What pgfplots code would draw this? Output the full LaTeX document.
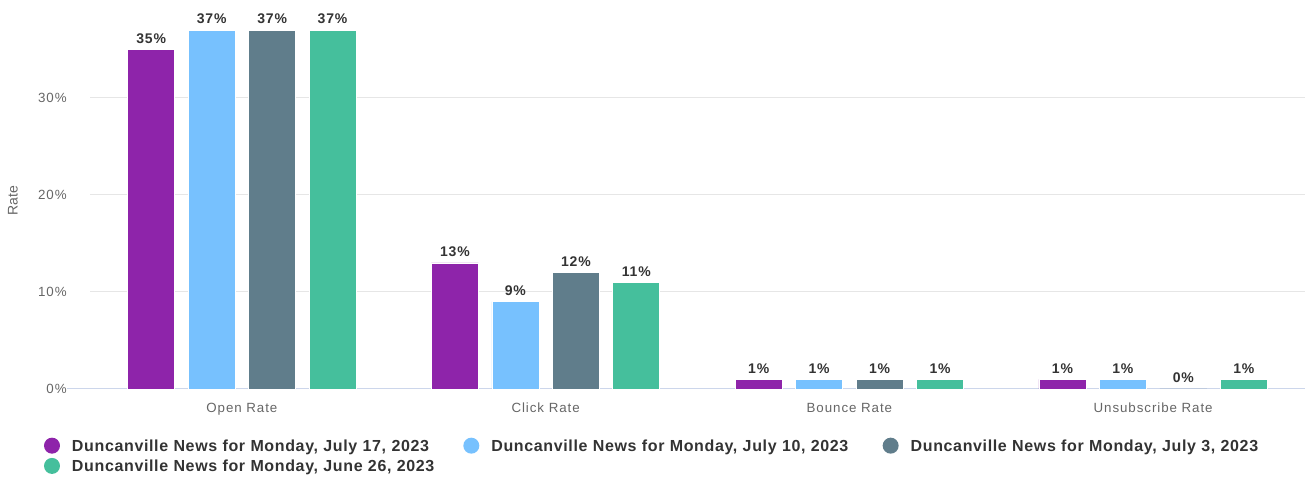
\documentclass[border=0pt]{standalone}
\usepackage{fontspec}
\setmainfont{Liberation Sans}
\newfontfamily\legfont[LetterSpace=4]{Liberation Sans}
\newfontfamily\valfont[LetterSpace=6]{Liberation Sans}
\newfontfamily\tickfont[LetterSpace=7]{Liberation Sans}
\usepackage{pgfplots}
\pgfplotsset{compat=1.18}

\definecolor{cpurple}{HTML}{8E24AA}
\definecolor{cblue}{HTML}{77C1FE}
\definecolor{cslate}{HTML}{607D8B}
\definecolor{cgreen}{HTML}{45BF9C}
\definecolor{gridc}{HTML}{E6E6E6}
\definecolor{basec}{HTML}{CCD6EB}
\definecolor{labc}{HTML}{666666}
\definecolor{valc}{HTML}{333333}

\begin{document}
\begin{tikzpicture}
\begin{axis}[
    at={(0,0)}, anchor=south west,
    scale only axis,
    width=911.25pt, height=291pt,
    ybar=10.1pt, bar width=35.25pt,
    xmin=-0.5, xmax=3.5,
    ymin=0, ymax=40,
    xtick={0,1,2,3},
    xticklabels={Open Rate, Click Rate, Bounce Rate, Unsubscribe Rate},
    ytick={0,10,20,30},
    yticklabel={\pgfmathprintnumber{\tick}\%},
    /pgf/number format/assume math mode=true,
    major tick length=0pt,
    ymajorgrids,
    grid style={draw=gridc, line width=0.75pt},
    axis x line*=bottom, axis y line*=left,
    axis line style={-},
    x axis line style={draw=basec, line width=0.75pt, shorten <=-17.25pt},
    y axis line style={draw=none},
    tick label style={font=\tickfont\fontsize{10}{12}\selectfont, text=labc},
    yticklabel style={xshift=-14pt},
    xticklabel style={yshift=-7pt},
    ylabel={Rate},
    ylabel style={at={(rel axis cs:0,0.485)}, anchor=center, yshift=57.75pt,
        font=\fontsize{10.5}{12}\selectfont, text=labc},
    nodes near coords={\pgfmathprintnumber{\pgfplotspointmeta}\%},
    every node near coord/.append style={font=\valfont\bfseries\fontsize{10.5}{12}\selectfont, text=valc, yshift=1pt},
    clip=false,
    legend columns=3,
    legend cell align=left,
    legend image code/.code={\path[#1, draw=none] (6pt,1.5pt) circle (6pt);},
    legend style={at={(rel axis cs:0,0)}, anchor=north west, xshift=-34.7pt, yshift=-36.3pt,
        draw=none, fill=none, inner sep=0pt, row sep=1.2pt,
        font=\legfont\bfseries\fontsize{12}{14}\selectfont, text=valc,
        nodes={inner sep=1pt, text width=292.5pt, text height=8.5pt, text depth=2.5pt},
        /tikz/every odd column/.append style={column sep=8pt},
        /tikz/every even column/.append style={column sep=0pt}},
]
\addplot[fill=cpurple, draw=white, line width=0.5pt] coordinates {(0,35) (1,13) (2,1) (3,1)};
\addlegendentry{Duncanville News for Monday, July 17, 2023}
\addplot[fill=cblue, draw=white, line width=0.5pt] coordinates {(0,37) (1,9) (2,1) (3,1)};
\addlegendentry{Duncanville News for Monday, July 10, 2023}
\addplot[fill=cslate, draw=white, line width=0.5pt] coordinates {(0,37) (1,12) (2,1) (3,0)};
\addlegendentry{Duncanville News for Monday, July 3, 2023}
\addplot[fill=cgreen, draw=white, line width=0.5pt] coordinates {(0,37) (1,11) (2,1) (3,1)};
\addlegendentry{Duncanville News for Monday, June 26, 2023}
\end{axis}
\pgfresetboundingbox
\useasboundingbox (-67.5pt,-66.75pt) rectangle (918pt,291.75pt);
\end{tikzpicture}
\end{document}
